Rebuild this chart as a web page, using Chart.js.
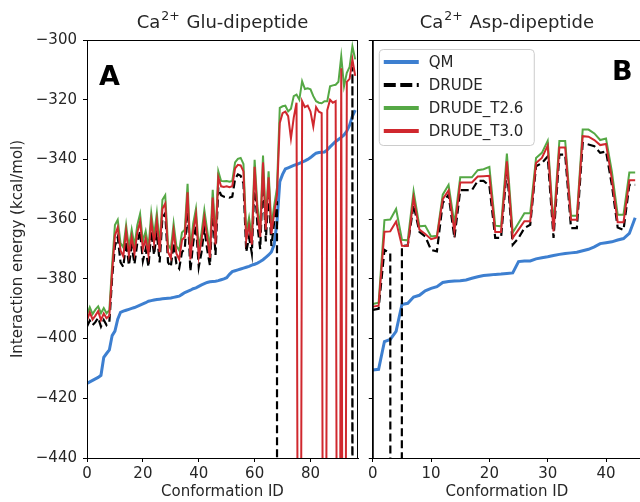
<!DOCTYPE html>
<html>
<head>
<meta charset="utf-8">
<script src="https://cdn.jsdelivr.net/npm/chart.js@4.4.1/dist/chart.umd.min.js"></script>
<style>
  html, body { margin: 0; padding: 0; background: #fff; overflow: hidden; }
  #wrap { position: relative; width: 640px; height: 502px; overflow: hidden; }
  #glu { position: absolute; left: 0; top: 0; }
  #asp { position: absolute; left: 365px; top: 0; }
</style>
</head>
<body>
<div id="wrap">
  <canvas id="glu" width="365" height="502"></canvas>
  <canvas id="asp" width="290" height="502"></canvas>
</div>
<script>
// ---- data ----
const yTicks = [-440, -420, -400, -380, -360, -340, -320, -300];
const gluXTicks = [0, 20, 40, 60, 80];
const aspXTicks = [0, 10, 20, 30, 40];

// Ca2+ Glu-dipeptide, conformations 0..96
const gluQM = [
  -415.0, -414.5, -414.0, -413.5, -413.0, -412.3, -406.3, -405.0, -403.8, -399.0,
  -397.5, -393.5, -391.2, -390.8, -390.5, -390.2, -389.9, -389.6, -389.2, -388.8,
  -388.4, -388.0, -387.5, -387.3, -387.1, -386.9, -386.8, -386.7, -386.6, -386.5,
  -386.4, -386.2, -386.0, -385.8, -385.2, -384.6, -384.2, -383.8, -383.3, -383.0,
  -382.5, -382.0, -381.6, -381.2, -381.0, -380.9, -380.8, -380.6, -380.3, -380.0,
  -379.6, -378.5, -377.6, -377.3, -377.0, -376.7, -376.4, -376.1, -375.8, -375.4,
  -375.1, -374.7, -374.2, -373.6, -372.8, -372.0, -371.0, -368.5, -361.0, -347.5,
  -345.0, -343.2, -342.8, -342.4, -342.0, -341.7, -341.3, -340.9, -340.5, -340.0,
  -339.4, -338.6, -337.9, -337.7, -337.6, -337.5, -336.8, -335.8, -334.9, -334.0,
  -333.3, -332.6, -331.8, -330.5, -328.5, -325.5, -323.5
];
const gluDrude = [
  -396.0, -394.0, -395.5, -394.5, -393.0, -396.0, -393.8, -395.5, -394.5, -379.5,
  -369.0, -366.0, -374.5, -376.0, -367.5, -375.5, -369.0, -375.0, -368.0, -364.0,
  -374.0, -370.0, -376.0, -364.0, -372.0, -364.5, -374.5, -359.5, -358.0, -374.5,
  -376.0, -368.0, -375.0, -376.5, -371.0, -370.0, -355.5, -377.5, -368.0, -362.0,
  -376.0, -371.0, -363.0, -370.0, -375.5, -357.0, -372.0, -349.5, -352.0, -352.5,
  -352.5, -352.8, -352.5, -346.5, -345.0, -345.5, -348.0, -371.0, -366.0, -371.5,
  -346.5, -362.0, -370.0, -345.0, -367.5, -350.0, -369.0, -361.0, -354.0, -5000,
  -5000, -5000, -5000, -5000, -5000, -5000, -5000, -5000, -5000, -5000,
  -5000, -5000, -5000, -5000, -5000, -5000, -5000, -5000, -5000, -5000,
  -5000, -5000, -5000, -5000, -5000, -309.0, -5000
];
const gluT26 = [
  -392.0, -389.5, -391.8, -390.3, -389.2, -391.5, -389.8, -391.5, -390.5, -375.3,
  -362.0, -360.2, -368.0, -369.5, -362.0, -369.5, -363.5, -369.0, -362.0, -358.2,
  -367.5, -364.0, -369.5, -358.0, -365.5, -358.0, -368.5, -353.5, -352.0, -368.5,
  -370.0, -361.5, -369.0, -370.5, -364.5, -363.5, -348.2, -370.5, -361.5, -356.5,
  -369.5, -364.5, -357.0, -363.5, -370.0, -350.2, -366.0, -344.0, -347.2, -347.3,
  -347.2, -347.5, -347.2, -341.0, -339.8, -339.5, -341.5, -364.5, -359.5, -366.0,
  -340.1, -355.5, -363.5, -338.7, -361.0, -344.0, -362.5, -355.5, -349.5, -322.7,
  -322.2, -322.0, -323.9, -323.0, -318.8, -318.3, -320.0, -313.8, -316.4, -316.2,
  -316.5, -318.8, -320.5, -321.0, -321.2, -320.5, -320.5, -315.5, -315.2, -315.0,
  -314.0, -305.5, -315.5, -311.0, -309.0, -302.1, -306.5
];
const gluT30 = [
  -394.0, -391.2, -393.6, -392.3, -390.8, -393.8, -391.6, -393.2, -392.4, -377.5,
  -365.5, -362.8, -370.5, -372.5, -364.0, -372.0, -366.0, -371.5, -364.5, -360.8,
  -370.0, -366.5, -372.0, -360.5, -368.0, -360.5, -371.0, -356.5, -354.8, -371.0,
  -373.0, -364.0, -371.5, -373.5, -367.0, -366.0, -351.0, -373.5, -364.0, -358.5,
  -372.5, -367.0, -359.5, -366.0, -373.0, -352.8, -368.5, -346.0, -349.0, -349.2,
  -349.0, -349.3, -349.0, -343.0, -341.8, -342.0, -344.0, -367.0, -362.0, -368.5,
  -342.5, -358.0, -366.0, -341.0, -363.5, -346.0, -365.0, -358.0, -352.0, -327.8,
  -324.5, -324.0, -325.5, -333.0, -326.0, -321.0, -700, -320.5, -322.5, -322.0,
  -324.0, -329.0, -322.5, -324.0, -324.5, -700, -323.5, -320.0, -321.0, -320.5,
  -700, -309.5, -700, -314.0, -313.0, -306.5, -312.0
];

// Ca2+ Asp-dipeptide, conformations 0..45
const aspQM = [
  -410.5, -410.3, -401.0, -400.3, -397.6, -388.6, -388.2, -386.1, -385.5, -384.0,
  -383.2, -382.6, -381.2, -380.9, -380.7, -380.6, -380.4, -379.8, -379.3, -378.9,
  -378.7, -378.5, -378.4, -378.2, -378.0, -374.2, -374.0, -374.0, -373.3, -372.9,
  -372.6, -372.2, -371.8, -371.5, -371.3, -371.1, -370.6, -370.1, -369.3, -368.2,
  -367.9, -367.6, -367.0, -366.5, -364.8, -359.5
];
const aspDrude = [
  -390.4, -390.0, -370.3, -371.5, -5000, -369.0, -368.8, -355.2, -364.3, -365.8,
  -370.3, -370.8, -354.6, -351.8, -366.3, -350.3, -350.3, -350.3, -347.2, -347.2,
  -348.8, -366.3, -366.3, -342.8, -368.6, -366.3, -363.0, -361.9, -342.3, -341.2,
  -339.0, -366.3, -338.4, -338.4, -363.0, -363.0, -334.5, -335.0, -335.6, -337.8,
  -337.3, -348.5, -362.8, -363.6, -348.5, -348.5
];
const aspT26 = [
  -388.4, -388.0, -360.3, -360.1, -356.6, -366.9, -367.1, -350.7, -362.4, -362.2,
  -365.8, -365.6, -351.8, -348.5, -361.5, -346.0, -346.0, -346.0, -343.6, -343.3,
  -342.5, -362.2, -362.4, -338.0, -364.5, -361.3, -358.0, -358.0, -339.5, -337.8,
  -333.8, -362.0, -333.8, -333.8, -358.9, -358.9, -330.0, -330.0, -331.3, -333.5,
  -333.0, -344.0, -358.5, -358.5, -344.4, -344.4
];
const aspT30 = [
  -389.3, -389.0, -364.2, -364.1, -360.8, -368.9, -369.0, -352.9, -363.5, -365.0,
  -366.7, -366.1, -353.3, -350.4, -364.0, -347.7, -347.7, -347.7, -345.7, -345.6,
  -345.5, -364.3, -364.3, -340.6, -366.3, -363.5, -360.7, -360.7, -341.2, -339.5,
  -335.4, -364.1, -336.0, -336.0, -360.2, -360.2, -332.2, -332.4, -333.5, -335.2,
  -334.8, -346.5, -361.0, -361.0, -347.0, -347.0
];

const gluIds = gluQM.map((_, i) => i);
const aspIds = aspQM.map((_, i) => i);

const colors = {
  qm: '#3d7fd0',
  drude: '#000000',
  t26: '#55a845',
  t30: '#d0282e',
};
const FONT = 'DejaVu Sans';
const INK = '#262626';

function points(ids, values) {
  return ids.map((id, i) => ({ x: id, y: values[i] }));
}

function makeDatasets(ids, qm, drude, t26, t30) {
  const base = { pointRadius: 0, tension: 0, fill: false, clip: 0 };
  return [
    { ...base, label: 'QM', data: points(ids, qm), borderColor: colors.qm, borderWidth: 3, order: 3 },
    { ...base, label: 'DRUDE', data: points(ids, drude), borderColor: colors.drude, borderWidth: 2.2, borderDash: [8, 4], order: 2 },
    { ...base, label: 'DRUDE_T2.6', data: points(ids, t26), borderColor: colors.t26, borderWidth: 2, order: 1 },
    { ...base, label: 'DRUDE_T3.0', data: points(ids, t30), borderColor: colors.t30, borderWidth: 2, order: 0 },
  ];
}

const minus = (v) => String(v).replace('-', '\u2212');

// frame, title with superscript and panel letter
const panelDecor = {
  id: 'panelDecor',
  afterDraw(chart, args, opts) {
    const { ctx, chartArea: ca } = chart;
    ctx.save();
    ctx.strokeStyle = '#000';
    ctx.lineWidth = 1;
    ctx.strokeRect(ca.left + 0.5, ca.top + 0.5, ca.right - ca.left - 1, ca.bottom - ca.top);

    const big = `18px "${FONT}"`;
    const small = `12.5px "${FONT}"`;
    ctx.fillStyle = INK;
    ctx.textAlign = 'left';
    ctx.textBaseline = 'alphabetic';
    ctx.font = big;
    const wCa = ctx.measureText('Ca').width;
    const rest = ' ' + opts.title;
    const wRest = ctx.measureText(rest).width;
    ctx.font = small;
    const wSup = ctx.measureText('2+').width + 2;
    let x = (ca.left + ca.right) / 2 - (wCa + wSup + wRest) / 2;
    ctx.font = big;
    ctx.fillText('Ca', x, 28);
    x += wCa;
    ctx.font = small;
    ctx.fillText('2+', x + 1, 20);
    x += wSup;
    ctx.font = big;
    ctx.fillText(rest, x, 28);

    ctx.font = `bold 27px "${FONT}"`;
    ctx.fillStyle = '#000';
    ctx.fillText(opts.letter, opts.letterX, opts.letterY);
    ctx.restore();
  },
};

// matplotlib-like legend box inside the axes
const insetLegend = {
  id: 'insetLegend',
  afterDatasetsDraw(chart, args, opts) {
    if (!opts.show) return;
    const { ctx, chartArea: ca } = chart;
    const x0 = ca.left + 6;
    const y0 = ca.top + 9;
    ctx.save();
    ctx.fillStyle = 'rgba(255,255,255,0.85)';
    ctx.strokeStyle = '#cccccc';
    ctx.lineWidth = 1;
    ctx.beginPath();
    ctx.roundRect(x0 + 0.5, y0 + 0.5, 155, 96, 4);
    ctx.fill();
    ctx.stroke();
    ctx.font = `15px "${FONT}"`;
    ctx.textBaseline = 'middle';
    ctx.textAlign = 'left';
    chart.data.datasets.forEach((ds, i) => {
      const y = ca.top + 22 + i * 23;
      ctx.strokeStyle = ds.borderColor;
      ctx.lineWidth = 4;
      ctx.setLineDash(ds.borderDash ? [12, 4.5] : []);
      ctx.beginPath();
      ctx.moveTo(x0 + 5, y);
      ctx.lineTo(x0 + 40, y);
      ctx.stroke();
      ctx.setLineDash([]);
      ctx.fillStyle = INK;
      ctx.fillText(ds.label, x0 + 50, y + 1);
    });
    ctx.restore();
  },
};

function panelOptions(cfg) {
  const font = { family: FONT, size: 15 };
  return {
    responsive: false,
    animation: false,
    events: [],
    layout: { padding: { top: 40, right: cfg.padRight, left: 0, bottom: 0 } },
    scales: {
      x: {
        type: 'linear',
        min: 0,
        max: cfg.xMax,
        afterBuildTicks: (s) => { s.ticks = cfg.xTicks.map((v) => ({ value: v })); },
        afterFit: (s) => { s.height = 44; },
        grid: { drawOnChartArea: false, drawTicks: true, tickLength: 4, color: '#000' },
        border: { display: true, color: '#000', width: 1 },
        ticks: { color: INK, font, padding: 3, maxRotation: 0, autoSkip: false },
        title: { display: true, text: 'Conformation ID', color: INK, font, padding: { top: 0, bottom: 1 } },
      },
      y: {
        type: 'linear',
        min: -440,
        max: -300,
        afterBuildTicks: (s) => { s.ticks = yTicks.map((v) => ({ value: v })); },
        afterFit: (s) => { s.width = cfg.yWidth; },
        grid: { drawOnChartArea: false, drawTicks: true, tickLength: 4, color: '#000' },
        border: { display: true, color: '#000', width: 1 },
        ticks: { display: cfg.yLabels, color: INK, font, padding: 6, callback: (v) => minus(v) },
        title: { display: cfg.yLabels, text: 'Interaction energy (kcal/mol)', color: INK, font, padding: { top: 9, bottom: 0 } },
      },
    },
    plugins: {
      legend: { display: false },
      tooltip: { enabled: false },
      panelDecor: { title: cfg.title, letter: cfg.letter, letterX: cfg.letterX, letterY: cfg.letterY },
      insetLegend: { show: cfg.legend },
    },
  };
}

new Chart(document.getElementById('glu'), {
  type: 'line',
  data: { datasets: makeDatasets(gluIds, gluQM, gluDrude, gluT26, gluT30) },
  options: panelOptions({
    xMax: 97, xTicks: gluXTicks, yWidth: 87, yLabels: true, padRight: 7,
    title: 'Glu-dipeptide', letter: 'A', letterX: 99, letterY: 85, legend: false,
  }),
  plugins: [insetLegend, panelDecor],
});

new Chart(document.getElementById('asp'), {
  type: 'line',
  data: { datasets: makeDatasets(aspIds, aspQM, aspDrude, aspT26, aspT30) },
  options: panelOptions({
    xMax: 46, xTicks: aspXTicks, yWidth: 7, yLabels: false, padRight: 14,
    title: 'Asp-dipeptide', letter: 'B', letterX: 247, letterY: 80, legend: true,
  }),
  plugins: [insetLegend, panelDecor],
});
</script>
</body>
</html>
